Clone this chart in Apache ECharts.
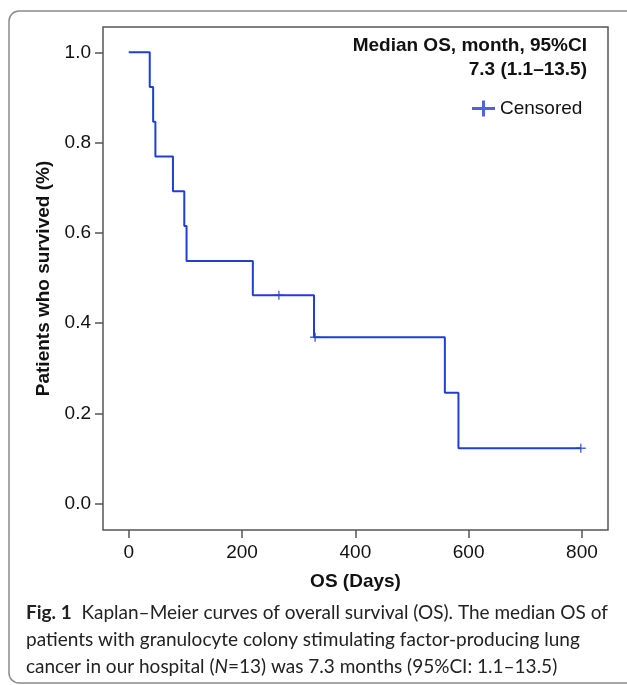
<!DOCTYPE html>
<html>
<head>
<meta charset="utf-8">
<script src="https://cdn.jsdelivr.net/npm/echarts@6/dist/echarts.min.js"></script>
<style>
html,body{margin:0;padding:0;background:#fff;}
#chart{width:627px;height:685px;}
</style>
</head>
<body>
<div id="chart"></div>
<script>
// Kaplan–Meier step points (days, survival)
const stepTimes = [0, 37, 43, 47, 78, 98, 102, 219, 327, 558, 582, 798];
const stepSurv  = [1.0, 0.923, 0.846, 0.769, 0.692, 0.615, 0.538, 0.462, 0.369, 0.246, 0.123, 0.123];
// Censored observations
const censorTimes = [265, 329, 798];
const censorSurv  = [0.462, 0.369, 0.123];
// Tick labels
const xTicks = [0, 200, 400, 600, 800];
const yTicks = [0.0, 0.2, 0.4, 0.6, 0.8, 1.0];

const blue = '#1f3fd4';
const axisFont = '"Liberation Sans", Arial, sans-serif';
const capFont = 'Lato, "Open Sans", sans-serif';

const chart = echarts.init(document.getElementById('chart'), null, {renderer: 'canvas'});

const plusLegend = 'path://M0,6.5 H10 V0 H13 V6.5 H23 V9.5 H13 V16 H10 V9.5 H0 Z';
const plusMark = 'path://M0,3.8 H4.3 V0 H5.7 V3.8 H10 V5.2 H5.7 V9 H4.3 V5.2 H0 Z';

chart.setOption({
  animation: false,
  backgroundColor: '#fff',
  grid: {
    left: 103, top: 27, right: 19, bottom: 155,
    show: true, borderColor: '#555', borderWidth: 1.5, backgroundColor: 'transparent'
  },
  xAxis: {
    type: 'value', min: -45.5, max: 846,
    axisLine: {show: false, onZero: false},
    splitLine: {show: false},
    axisTick: {show: true, inside: false, length: 8, customValues: xTicks, lineStyle: {color: '#555', width: 1.5}},
    axisLabel: {customValues: xTicks, margin: 13, fontSize: 19, color: '#111', fontFamily: axisFont},
    name: 'OS (Days)', nameLocation: 'middle', nameGap: 42,
    nameTextStyle: {fontSize: 19, fontWeight: 'bold', color: '#111', fontFamily: axisFont}
  },
  yAxis: {
    type: 'value', min: -0.058, max: 1.056,
    axisLine: {show: false, onZero: false},
    splitLine: {show: false},
    axisTick: {show: true, inside: false, length: 8, customValues: yTicks, lineStyle: {color: '#555', width: 1.5}},
    axisLabel: {customValues: yTicks, margin: 12, fontSize: 19, color: '#111', fontFamily: axisFont,
      formatter: v => v.toFixed(1)},
    name: 'Patients who survived (%)', nameLocation: 'middle', nameGap: 50, nameRotate: 90,
    nameTextStyle: {fontSize: 19, fontWeight: 'bold', color: '#111', fontFamily: axisFont}
  },
  legend: {
    data: ['Censored'], left: 472, top: 99, padding: 0, icon: plusLegend,
    itemWidth: 23, itemHeight: 16, itemGap: 6,
    textStyle: {fontSize: 19, color: '#111', fontFamily: axisFont}
  },
  series: [
    {
      name: 'KM', type: 'line', step: 'end', showSymbol: false, symbol: 'none',
      data: stepTimes.map((t, i) => [t, stepSurv[i]]),
      lineStyle: {color: blue, width: 2}, z: 2
    },
    {
      name: 'Censored', type: 'scatter', symbol: plusMark, symbolSize: [10, 9],
      data: censorTimes.map((t, i) => [t, censorSurv[i]]),
      itemStyle: {color: blue}, z: 3
    }
  ],
  graphic: [
    {type: 'rect', shape: {x: 9, y: 11, width: 640, height: 672, r: 10},
     style: {fill: 'none', stroke: '#8a8a8a', lineWidth: 1.5}, z: -1},
    {type: 'text', x: 587, y: 46, style: {text: 'Median OS, month, 95%CI', align: 'right', verticalAlign: 'middle',
      font: 'bold 19px ' + axisFont, fill: '#111'}},
    {type: 'text', x: 587, y: 70, style: {text: '7.3 (1.1–13.5)', align: 'right', verticalAlign: 'middle',
      font: 'bold 19px ' + axisFont, fill: '#111'}},
    {type: 'text', x: 26, y: 599, style: {
      text: '{b|Fig. 1}  Kaplan–Meier curves of overall survival (OS). The median OS of\npatients with granulocyte colony stimulating factor-producing lung\ncancer in our hospital ({i|N}=13) was 7.3 months (95%CI: 1.1–13.5)',
      fontSize: 19, fontFamily: capFont, fill: '#222', lineHeight: 27,
      rich: {
        b: {fontSize: 19, fontWeight: 'bold', fontFamily: capFont, fill: '#222', lineHeight: 27},
        i: {fontSize: 19, fontStyle: 'italic', fontFamily: capFont, fill: '#222', lineHeight: 27}
      }
    }}
  ]
});
</script>
</body>
</html>
